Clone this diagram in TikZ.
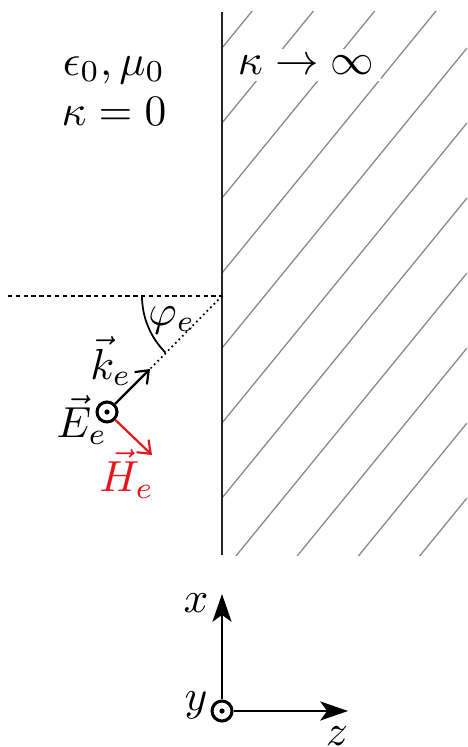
\documentclass[tikz,border=0pt]{standalone}
\usepackage{amsmath,amssymb}
\usepackage{xcolor}
\usepackage{tikz}
\usetikzlibrary{arrows.meta,positioning}
\definecolor{hatchgray}{HTML}{8A8A8A}
\definecolor{fieldred}{HTML}{E8141B}

\begin{document}
\begin{tikzpicture}[
  x=0.23pt, y=-0.23pt,
  wall/.style={line width=0.5pt, draw=black!85},
  hatch/.style={line width=0.3pt, draw=hatchgray},
  guide/.style={line width=0.3pt, dash pattern=on 1pt off 0.8pt},
  ray/.style={line width=0.4pt, dash pattern=on 0.4pt off 0.75pt},
  outofpage/.style={circle, draw, line width=0.7pt, minimum size=4.6pt,
    inner sep=0pt, fill=white},
  wave/.style={-{Straight Barb[length=2.6pt,width=4pt]}, line width=0.5pt},
  axis/.style={-{Stealth[length=6.4pt,width=4.4pt,inset=1.6pt]}, line width=0.4pt},
  lbl/.style={inner sep=0pt}
]
\useasboundingbox (0,0) rectangle (467,747);

% conductor half space
\begin{scope}
  \clip (222,12) rectangle (467,555);
  \foreach \c in {48,123,...,798}
    \draw[hatch] (222,\c) -- (467,\c-300);
\end{scope}
\coordinate (walltop) at (222,12);
\coordinate (wallbot) at (222,555);
\draw[wall] (walltop) -- (wallbot);

\node[align=center, inner sep=0pt] (vacuum) at (114,91)
  {$\epsilon_0,\mu_0$\\[-0.5pt]$\kappa=0$};
\node[fill=white, inner sep=1.5pt] (cond) at (306,65) {$\kappa\to\infty$};

% incidence
\coordinate (hit) at (222,296);
\coordinate (normalend) at (8,296);
\coordinate (ktip) at (150,369);
\coordinate (htip) at (152,455);
\draw[guide] (normalend) -- (hit);
\draw[ray] (hit) -- (ktip);
\draw[line width=0.4pt] (hit) ++(-80,0) arc[start angle=180, end angle=135, radius=80];
\node[lbl] (phi) at (172,320) {$\varphi_e$};

\node[outofpage] (E) at (107,412) {};
\fill (E.center) circle (2.6);
\draw[wave] (E) -- (ktip);
\draw[wave, fieldred] (E) -- (htip);
\node[lbl] (klbl) at (111,361) {$\vec{k}_e$};
\node[lbl] (Elbl) at (82,420) {$\vec{E}_e$};
\node[lbl, text=fieldred] (Hlbl) at (127,474) {$\vec{H}_e$};

% coordinate system
\node[outofpage] (O) at (222,711) {};
\fill (O.center) circle (2.6);
\coordinate (xtip) at (222,594);
\coordinate (ztip) at (348,711);
\draw[axis] (O) -- (xtip);
\draw[axis] (O) -- (ztip);
\node[lbl] (xlbl) at (196,603) {$x$};
\node[lbl] (ylbl) at (196,705) {$y$};
\node[lbl] (zlbl) at (337,736) {$z$};
\end{tikzpicture}
\end{document}
